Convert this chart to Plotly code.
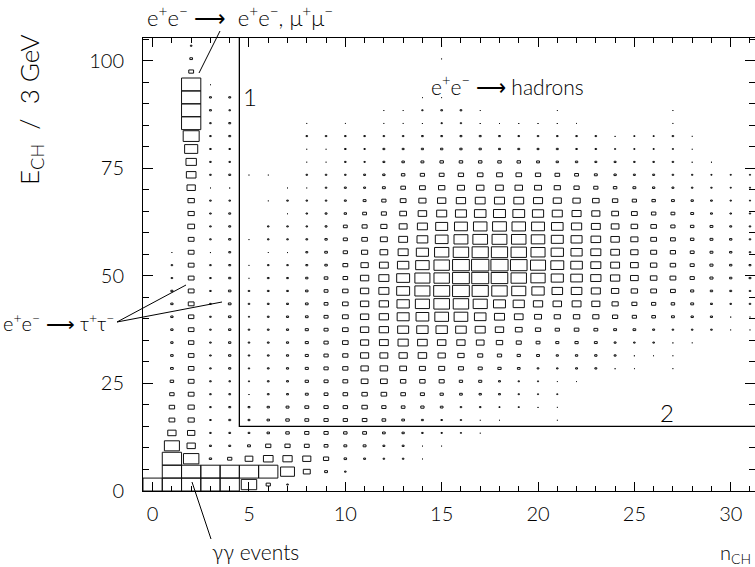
import plotly.graph_objects as go

# ---------------- data ----------------
# x bins: charged multiplicity n_CH (bin centres, width 1)
n_ch = list(range(32))
# y bins: E_CH in 3 GeV steps -> 35 bins from 0 to 105
e_bin_width = 3.0
# box size per cell, in percent of a full bin (rows listed top (E_CH 102-105) to bottom (0-3))
box_size = [
    [0,0,8,0,0,0,0,0, 0,0,0,0,0,0,0,4, 0,0,0,0,0,0,0,0, 0,0,0,0,0,0,0,0],
    [0,0,14,0,0,0,0,0, 0,0,0,0,0,0,0,4, 0,0,0,0,0,0,0,0, 0,0,0,0,0,0,0,0],
    [0,0,25,0,0,0,0,0, 0,0,0,0,0,0,0,0, 0,0,0,0,0,0,0,0, 0,0,0,0,0,0,0,0],
    [0,0,100,4,0,0,0,0, 0,0,0,0,0,0,0,0, 0,0,0,0,0,0,0,0, 0,0,0,0,0,0,0,0],
    [0,0,100,10,10,0,0,0, 0,0,0,0,0,0,4,4, 0,0,0,0,0,0,0,0, 0,0,0,0,0,0,0,0],
    [0,0,100,10,8,0,0,0, 0,0,0,0,4,4,7,9, 9,4,0,0,0,4,0,0, 0,0,0,4,0,0,0,0],
    [0,0,100,8,10,0,0,0, 4,0,4,0,4,4,5,7, 7,5,5,5,5,5,4,0, 0,0,0,4,0,0,0,0],
    [0,0,83,8,10,0,0,0, 8,8,8,8,8,8,9,9, 10,10,9,8,8,8,8,8, 5,6,6,8,4,0,0,0],
    [0,0,68,8,8,0,0,0, 4,4,8,7,10,10,11,12, 12,12,10,10,10,10,8,8, 6,6,6,6,4,0,0,0],
    [0,0,54,8,8,0,0,0, 4,4,8,7,10,13,15,18, 18,18,18,18,15,12,12,10, 10,8,8,8,5,5,0,0],
    [0,0,50,8,10,4,4,0, 8,8,8,10,12,18,22,25, 27,29,30,29,27,24,20,15, 12,10,10,8,7,6,6,6],
    [0,0,43,4,5,0,0,4, 4,8,10,10,15,24,30,33, 37,39,40,39,36,32,27,22, 18,15,12,10,8,7,6,6],
    [0,0,33,8,8,0,4,8, 8,8,10,15,22,30,37,43, 48,51,52,51,47,42,38,34, 28,22,18,15,12,9,7,6],
    [0,0,32,8,10,0,0,4, 8,10,12,20,26,35,44,52, 57,60,62,61,58,52,47,42, 35,30,23,20,15,10,8,7],
    [0,0,35,8,10,0,8,8, 8,10,20,26,32,41,52,62, 67,70,72,70,67,60,53,46, 40,34,29,22,18,15,10,8],
    [0,0,30,8,11,4,8,8, 9,12,21,29,36,46,56,66, 72,76,77,75,70,62,57,50, 44,37,30,25,18,15,12,8],
    [0,4,30,5,10,0,4,5, 10,14,22,32,40,52,63,74, 80,84,84,80,73,64,58,52, 45,38,31,27,20,15,12,8],
    [0,8,30,8,10,4,8,8, 10,13,25,38,46,59,70,80, 87,90,89,86,78,67,60,52, 46,40,33,28,21,16,12,10],
    [0,8,30,8,11,4,9,9, 12,19,24,43,52,67,78,80, 87,88,86,80,74,63,60,53, 48,40,34,30,22,16,12,10],
    [0,11,30,8,13,8,9,9, 13,20,28,43,52,67,78,83, 87,84,80,73,64,55,55,47, 38,33,30,25,16,12,10,8],
    [0,12,30,8,14,8,9,10, 14,20,29,43,48,64,73,81, 80,73,62,58,48,44,46,42, 32,26,22,18,15,10,8,8],
    [0,12,28,8,13,6,9,11, 14,21,30,43,48,62,66,71, 71,60,52,45,36,32,33,32, 27,22,19,15,12,11,5,4],
    [0,12,29,8,12,8,9,11, 16,21,29,43,48,57,59,59, 55,52,43,35,27,22,24,20, 15,14,10,8,8,8,4,4],
    [0,12,28,8,12,8,9,11, 16,22,29,42,46,53,50,44, 43,40,33,26,20,16,17,15, 10,8,8,5,4,0,0,0],
    [0,13,29,8,12,8,9,11, 16,22,27,42,41,43,44,38, 33,26,22,17,15,11,12,12, 10,5,4,4,0,0,0,0],
    [0,14,29,8,11,7,9,11, 16,22,27,38,39,35,31,31, 26,21,17,14,9,8,10,10, 5,4,0,4,0,0,0,0],
    [0,18,30,8,8,6,9,10, 17,21,25,35,35,28,28,26, 17,16,10,7,6,4,4,0, 0,0,0,0,0,0,0,0],
    [0,23,30,8,9,5,9,10, 15,20,24,28,29,24,21,17, 14,12,10,7,6,6,0,0, 0,0,0,0,0,0,0,0],
    [0,28,32,8,10,10,12,15, 20,22,23,28,22,19,17,14, 8,8,6,6,5,4,0,0, 0,0,0,0,0,0,0,0],
    [0,30,32,8,10,10,13,18, 20,22,22,24,19,14,10,8, 7,4,4,0,0,4,0,0, 0,0,0,0,0,0,0,0],
    [0,43,38,8,9,9,13,18, 22,22,18,20,14,12,8,7, 6,4,0,0,0,0,0,0, 0,0,0,0,0,0,0,0],
    [0,78,43,10,10,15,27,27, 25,20,15,15,10,10,4,4, 0,0,0,0,0,0,0,0, 0,0,0,0,0,0,0,0],
    [0,100,80,12,22,40,50,48, 42,27,13,10,8,8,4,0, 0,0,0,0,0,0,0,0, 0,0,0,0,0,0,0,0],
    [0,100,100,100,100,100,100,72, 36,15,8,0,0,0,0,0, 0,0,0,0,0,0,0,0, 0,0,0,0,0,0,0,0],
    [100,100,100,100,100,80,22,8, 0,0,0,0,0,0,0,0, 0,0,0,0,0,0,0,0, 0,0,0,0,0,0,0,0],
]
# region boundaries (cuts)
cut_n_ch = 4.5
cut_e_ch = 15.0
x_tick_vals = [0, 5, 10, 15, 20, 25, 30]
y_tick_vals = [0, 25, 50, 75, 100]

# ---------------- layout geometry ----------------
W, H = 755, 567
ML, MR, MT, MB = 143, 0, 38, 76
PW, PH = W - ML - MR, H - MT - MB
X_RANGE = [-0.5, 31.26]
Y_RANGE = [0, 105.3]

FONT = "Lato, DejaVu Sans, sans-serif"
WEIGHT = 300


def paper(px, py):
    return (px - ML) / PW, (H - MB - py) / PH


def tfont(size):
    return dict(family=FONT, size=size, color="black", weight=WEIGHT)


# ---------------- boxes ----------------
xs, ys = [], []
rows_bottom_up = box_size[::-1]
for j, row in enumerate(rows_bottom_up):
    yc = (j + 0.5) * e_bin_width
    for n, v in zip(n_ch, row):
        if v <= 0:
            continue
        f = v / 100.0
        hw = 0.5 * f
        hh = 0.5 * e_bin_width * f
        xs += [n - hw, n + hw, n + hw, n - hw, n - hw, None]
        ys += [yc - hh, yc - hh, yc + hh, yc + hh, yc - hh, None]

fig = go.Figure()
fig.add_trace(go.Scatter(x=xs, y=ys, mode="lines",
                         line=dict(color="#111111", width=1),
                         hoverinfo="skip", showlegend=False))

# cut lines
fig.add_trace(go.Scatter(x=[cut_n_ch, cut_n_ch, X_RANGE[1] + 1],
                         y=[Y_RANGE[1] + 1, cut_e_ch, cut_e_ch],
                         mode="lines", line=dict(color="black", width=1.3),
                         hoverinfo="skip", showlegend=False))

shapes = []


def pline(p0, p1):
    x0, y0 = paper(*p0)
    x1, y1 = paper(*p1)
    shapes.append(dict(type="line", xref="paper", yref="paper",
                       x0=x0, y0=y0, x1=x1, y1=y1,
                       line=dict(color="black", width=1)))


pline((220, 31), (199, 73))
pline((117, 322), (186, 285))
pline((117, 322), (222, 302))
pline((211, 539), (192, 482))

annotations = []


def label(text, px, py, size, xanchor="center", yanchor="middle", angle=0):
    x, y = paper(px, py)
    annotations.append(dict(text=text, x=x, y=y, xref="paper", yref="paper",
                            showarrow=False, xanchor=xanchor, yanchor=yanchor,
                            textangle=angle, font=tfont(size), borderpad=0))


SUP = lambda s: "<sup>" + s + "</sup>"
ARROW = " ⟶ "
label("e" + SUP("+") + "e" + SUP("−") + ARROW + " e" + SUP("+") + "e" + SUP("−") + ", μ" + SUP("+") + "μ" + SUP("−"),
      146, 17, 22, xanchor="left")
label("e" + SUP("+") + "e" + SUP("−") + ARROW + "hadrons", 430, 85, 21, xanchor="left")
label("1", 250, 96, 24)
label("2", 667, 412, 24)
label("e" + SUP("+") + "e" + SUP("−") + ARROW + "τ" + SUP("+") + "τ" + SUP("−"), 2, 322, 20, xanchor="left")
label("γγ events", 211, 551, 21, xanchor="left")
label("n<sub>CH</sub>", 752, 553, 20, xanchor="right")
label("E<sub>CH</sub>  /  3 GeV", 30, 110, 26, angle=-90)

fig.update_layout(
    width=W, height=H, autosize=False,
    margin=dict(l=ML, r=MR, t=MT, b=MB, pad=0),
    paper_bgcolor="white", plot_bgcolor="white",
    showlegend=False,
    shapes=shapes, annotations=annotations,
    font=tfont(20),
)
fig.update_xaxes(range=X_RANGE, tickmode="array", tickvals=x_tick_vals,
                 ticks="inside", ticklen=9, tickwidth=1, tickcolor="black",
                 minor=dict(ticks="inside", dtick=1, tick0=0, ticklen=5,
                            tickwidth=1, tickcolor="black"),
                 showline=True, linecolor="black", linewidth=1, mirror="ticks",
                 showgrid=False, zeroline=False,
                 tickfont=tfont(20),
                 ticklabelstandoff=5)
fig.update_yaxes(range=Y_RANGE, tickmode="array", tickvals=y_tick_vals,
                 ticks="inside", ticklen=10, tickwidth=1, tickcolor="black",
                 minor=dict(ticks="inside", dtick=5, tick0=0, ticklen=6,
                            tickwidth=1, tickcolor="black"),
                 showline=True, linecolor="black", linewidth=1, mirror="ticks",
                 showgrid=False, zeroline=False,
                 tickfont=tfont(20),
                 ticklabelstandoff=14)

fig.write_html("out.html")
